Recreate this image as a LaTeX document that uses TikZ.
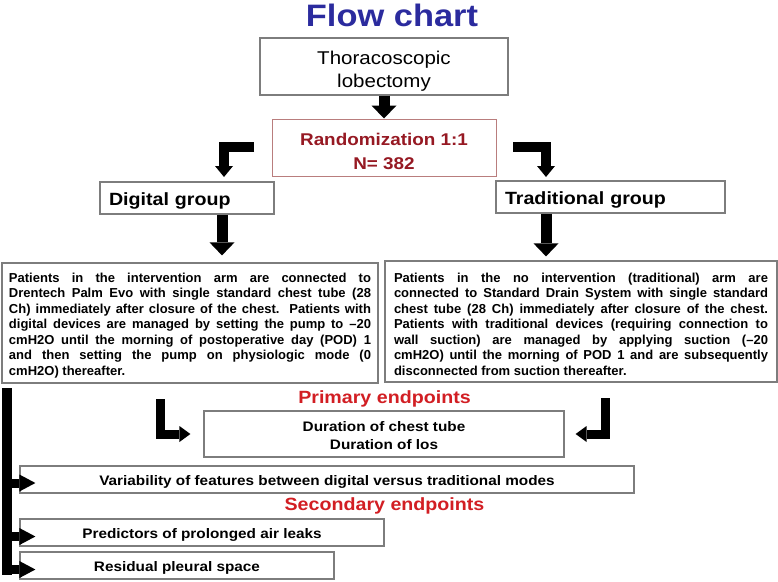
\documentclass[tikz,border=0pt]{standalone}
\usepackage{fontspec}
\setmainfont{Liberation Sans}
\newfontfamily\hf[FakeStretch=1.11]{Liberation Sans}
\usetikzlibrary{arrows.meta,calc}
\definecolor{titleblue}{RGB}{43,43,158}
\definecolor{randred}{RGB}{150,25,35}
\definecolor{randborder}{RGB}{185,125,125}
\definecolor{endred}{RGB}{210,30,35}
\definecolor{boxgray}{RGB}{125,125,125}
\newcommand{\jline}[2]{\makebox[#1][s]{#2}}
\begin{document}
\begin{tikzpicture}[x=1pt,y=-1pt,
  boxst/.style={draw=boxgray,line width=1.2pt,rectangle,inner sep=0pt,fill=white},
  bigarr/.style={line width=11pt,-{Triangle[width=25pt,length=13pt,line width=0pt]}},
  elbarr/.style={line width=10pt,line join=miter,-{Triangle[width=18pt,length=11pt,line width=0pt]}},
  botarr/.style={line width=9pt,line join=miter,-{Triangle[width=16pt,length=11pt,line width=0pt]}},
  sidearr/.style={line width=9pt,-{Triangle[width=17pt,length=16pt,line width=0pt]}},
  grptext/.style={font=\hf\bfseries\fontsize{17.7}{20}\selectfont,text width=156pt,align=left,inner xsep=9pt,inner ysep=0pt,text height=15.5pt,text depth=0pt},
  bodytext/.style={font=\bfseries\fontsize{13}{15.5}\selectfont,align=justify,inner sep=0pt},
  endtext/.style={font=\hf\bfseries\fontsize{13.8}{18}\selectfont,align=center},
  onetext/.style={endtext,text height=11pt,text depth=0pt},
  endlab/.style={font=\hf\bfseries\fontsize{17.7}{20}\selectfont,text=endred,inner sep=0pt,anchor=base},
]
\useasboundingbox (0,0) rectangle (778,581);
\fill[white] (0,0) rectangle (778,581);

\node[font=\hf\bfseries\fontsize{31}{34}\selectfont,text=titleblue,anchor=base,inner sep=0pt] (title) at (392,26) {Flow chart};

\node[boxst,minimum width=248pt,minimum height=57pt] (thor) at (384,66.5) {};
\node[align=center,inner sep=0pt,font=\hf\fontsize{18.5}{23}\selectfont] (thorT) at (384,71.5) {Thoracoscopic\\lobectomy};

\node[boxst,draw=randborder,line width=1pt,minimum width=224pt,minimum height=57pt] (rand) at (384,147.5) {};
\node[align=center,inner sep=0pt,text=randred,font=\hf\bfseries\fontsize{17}{24}\selectfont] (randT) at (384,151) {Randomization 1:1\\N= 382};

\node[boxst,grptext,minimum width=174pt,minimum height=32pt] (dig) at (187,198) {Digital group};
\node[boxst,grptext,text width=211pt,minimum width=229pt,minimum height=32pt] (trad) at (610.5,197) {Traditional group};

\node[boxst,minimum width=376pt,minimum height=120pt] (ltxt) at (190,323) {};
\node[bodytext,text width=362pt] (ltxtT) at (190,325.5) {%
\jline{362pt}{Patients in the intervention arm are connected to}\\
\jline{362pt}{Drentech Palm Evo with single standard chest tube (28}\\
\jline{362pt}{Ch) immediately after closure of the chest.\ \ Patients with}\\
\jline{362pt}{digital devices are managed by setting the pump to --20}\\
\jline{362pt}{cmH2O until the morning of postoperative day (POD) 1}\\
\jline{362pt}{and then setting the pump on physiologic mode (0}\\
cmH2O) thereafter.};

\node[boxst,minimum width=392pt,minimum height=121pt] (rtxt) at (581,321.5) {};
\node[bodytext,text width=374pt] (rtxtT) at (581,324) {%
\jline{374pt}{Patients in the no intervention (traditional) arm are}\\
\jline{374pt}{connected to Standard Drain System with single standard}\\
\jline{374pt}{chest tube (28 Ch) immediately after closure of the chest.}\\
\jline{374pt}{Patients with traditional devices (requiring connection to}\\
\jline{374pt}{wall suction) are managed by applying suction (--20}\\
\jline{374pt}{cmH2O) until the morning of POD 1 and are subsequently}\\
disconnected from suction thereafter.};

\node[endlab] (prim) at (384.5,403) {Primary endpoints};
\node[boxst,minimum width=360pt,minimum height=46pt] (pbox) at (384,434) {};
\node[endtext,inner sep=0pt] (pboxT) at (384,435.5) {Duration of chest tube\\Duration of los};
\node[boxst,onetext,minimum width=614pt,minimum height=27pt] (var) at (327,479.5) {Variability of features between digital versus traditional modes};
\node[endlab] (sec) at (384.5,510) {Secondary endpoints};
\node[boxst,onetext,minimum width=364pt,minimum height=27pt] (pred) at (202,532.5) {Predictors of prolonged air leaks};
\node[boxst,onetext,minimum width=314pt,minimum height=27pt] (resid) at (177,565.5) {Residual pleural space};

% arrows
\draw[bigarr] (thor.south) -- (rand.north);
\coordinate (dx) at (222,0);
\coordinate (tx) at (546,0);
\draw[bigarr,shorten >=7pt] (dig.south -| dx) -- (ltxt.north -| dx);
\draw[bigarr,shorten >=4pt] (trad.south -| tx) -- (rtxt.north -| tx);

\coordinate (tl1) at (254,147);
\coordinate (tl2) at (224,177);
\draw[elbarr] (tl1) -| (tl2);
\coordinate (tr1) at (513,147);
\coordinate (tr2) at (546,177);
\draw[elbarr] (tr1) -| (tr2);

\coordinate (bl) at (160.5,399);
\draw[botarr,shorten >=13pt] (bl) |- (pbox.west);
\coordinate (br) at (605.5,398);
\draw[botarr,shorten >=11pt] (br) |- (pbox.east);

\coordinate (trTop) at (7,388);
\coordinate (trBot) at (7,575);
\draw[line width=10pt] (trTop) -- (trBot);
\draw[sidearr] ($(trTop |- var.west)+(0,3.5)$) -- ($(var.west)+(16,3.5)$);
\draw[sidearr] ($(trTop |- pred.west)+(0,4)$) -- ($(pred.west)+(16,4)$);
\draw[sidearr] ($(trTop |- resid.west)+(0,4)$) -- ($(resid.west)+(16,4)$);
\end{tikzpicture}
\end{document}
